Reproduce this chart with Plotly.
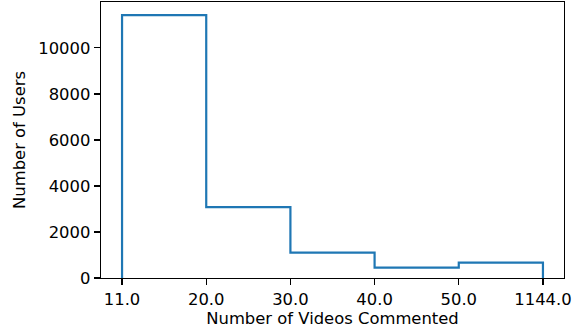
import plotly.graph_objects as go

bin_labels = ["11.0", "20.0", "30.0", "40.0", "50.0", "1144.0"]
counts = [11420, 3083, 1100, 447, 665]

edges = list(range(len(bin_labels)))
xs = [edges[0]]
ys = [0]
for i, c in enumerate(counts):
    xs += [edges[i], edges[i + 1]]
    ys += [c, c]
xs.append(edges[-1])
ys.append(0)

fig = go.Figure()
fig.add_trace(go.Scatter(x=xs, y=ys, mode="lines",
                         line=dict(color="#1f77b4", width=2.2), hoverinfo="skip"))

font = dict(family="DejaVu Sans", size=16.4, color="black")
fig.update_layout(
    width=584, height=333,
    margin=dict(l=101, r=20, t=2, b=55),
    paper_bgcolor="white", plot_bgcolor="white",
    showlegend=False,
    font=font,
    xaxis=dict(range=[-0.25, 5.25], tickvals=edges, ticktext=bin_labels,
               automargin=False,
               showgrid=False, zeroline=False, showline=True, mirror=True,
               linecolor="black", linewidth=1.3, ticks="outside", ticklen=6,
               tickwidth=1.3, tickcolor="black", tickfont=font,
               title=dict(text="Number of Videos Commented", font=font, standoff=3)),
    yaxis=dict(range=[0, 11991], tickvals=[0, 2000, 4000, 6000, 8000, 10000],
               ticktext=["0", "2000", "4000", "6000", "8000", "10000"],
               automargin=False,
               showgrid=False, zeroline=False, showline=True, mirror=True,
               linecolor="black", linewidth=1.3, ticks="outside", ticklen=6,
               tickwidth=1.3, tickcolor="black", tickfont=font,
               title=dict(text="Number of Users", font=font, standoff=8)),
)
fig.write_html("out.html", config={"displayModeBar": False, "staticPlot": True},
               post_script="document.body.style.margin='0';document.body.style.overflow='hidden';")
